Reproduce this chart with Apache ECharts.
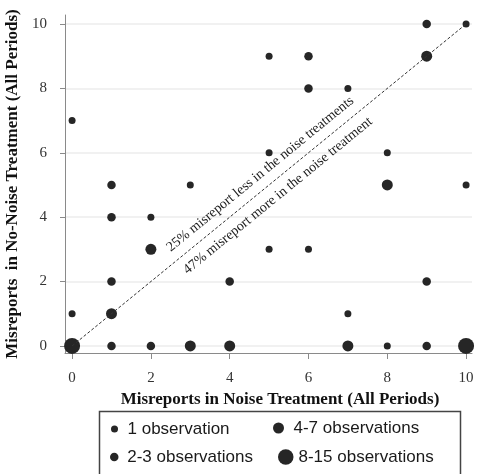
<!DOCTYPE html>
<html>
<head>
<meta charset="utf-8">
<script src="https://cdn.jsdelivr.net/npm/echarts@6/dist/echarts.min.js"></script>
<style>
  html, body { margin: 0; padding: 0; background: #fff; }
  #chart { width: 477px; height: 474px; }
</style>
</head>
<body>
<div id="chart"></div>
<script>
// Misreport counts per subject: [noise treatment, no-noise treatment]
const obsOne = [[0,7],[0,1],[2,4],[3,5],[5,9],[5,6],[5,3],[6,3],[7,8],[7,1],[8,6],[8,0],[10,10],[10,5]];
const obsTwoToThree = [[1,5],[1,4],[1,2],[1,0],[2,0],[4,2],[6,9],[6,8],[9,10],[9,2],[9,0]];
const obsFourToSeven = [[1,1],[2,3],[3,0],[4,0],[7,0],[8,5],[9,9]];
const obsEightToFifteen = [[0,0],[10,0]];

const groupNames = ['1 observation', '2-3 observations', '4-7 observations', '8-15 observations'];
const tickValues = [0, 2, 4, 6, 8, 10];
const diagonal = [[0, 0], [10, 10]];
const diagonalLabels = ['25% misreport less in the noise treatments', '47% misreport more in the noise treatment'];

const dotColor = '#262626';
const serif = 'Liberation Serif';
const sans = 'Liberation Sans';

const chart = echarts.init(document.getElementById('chart'), null, { renderer: 'canvas' });

const legendText = { fontFamily: sans, fontSize: 17, color: '#1a1a1a', lineHeight: 20 };
function legendFor(name, left, top, w, h) {
  return {
    data: [name], left: left, top: top, orient: 'vertical', padding: 0,
    icon: 'circle', itemWidth: w, itemHeight: h, selectedMode: false,
    itemStyle: { color: dotColor, borderWidth: 0, opacity: 1 },
    textStyle: legendText
  };
}

function scatter(name, data, size) {
  return {
    name: name, type: 'scatter', data: data, symbolSize: size,
    itemStyle: { color: dotColor, opacity: 1 },
    silent: true, z: 3
  };
}

const series = [
  scatter(groupNames[0], obsOne, 7),
  scatter(groupNames[1], obsTwoToThree, 8.5),
  scatter(groupNames[2], obsFourToSeven, 11),
  scatter(groupNames[3], obsEightToFifteen, 16)
];

series[0].markLine = {
  silent: true, symbol: 'none', animation: false,
  lineStyle: { color: '#333', width: 1, type: [3, 2] },
  label: { fontFamily: serif, fontSize: 14, color: '#1a1a1a', distance: 7 },
  data: [
    [{ coord: diagonal[0] }, { coord: diagonal[1], label: { formatter: diagonalLabels[0], position: 'insideMiddleTop' } }],
    [{ coord: diagonal[0], lineStyle: { color: 'rgba(0,0,0,0)', width: 0 } }, { coord: diagonal[1], label: { formatter: diagonalLabels[1], position: 'insideMiddleBottom' } }]
  ]
};

const option = {
  animation: false,
  backgroundColor: '#fff',
  grid: { left: 65, right: 5, top: 15, bottom: 121, outerBoundsMode: 'none', containLabel: false },
  xAxis: {
    type: 'value', min: -0.18, max: 10.15,
    name: 'Misreports in Noise Treatment (All Periods)',
    nameLocation: 'middle', nameGap: 33,
    nameTextStyle: { fontFamily: serif, fontWeight: 'bold', fontSize: 17, color: '#111', padding: [0, 0, 0, 23] },
    axisLine: { show: true, onZero: false, lineStyle: { color: '#8a8a8a', width: 1 } },
    axisTick: { show: true, customValues: tickValues, length: 6, lineStyle: { color: '#8a8a8a' } },
    axisLabel: { customValues: tickValues, fontFamily: serif, fontSize: 15, color: '#333', margin: 18 },
    splitLine: { show: false }
  },
  yAxis: {
    type: 'value', min: -0.22, max: 10.28,
    name: 'Misreports  in No-Noise Treatment (All Periods)',
    nameLocation: 'middle', nameGap: 39, nameRotate: 90,
    nameTextStyle: { fontFamily: serif, fontWeight: 'bold', fontSize: 17, color: '#111' },
    axisLine: { show: true, onZero: false, lineStyle: { color: '#8a8a8a', width: 1 } },
    axisTick: { show: true, customValues: tickValues, length: 5, lineStyle: { color: '#8a8a8a' } },
    axisLabel: { customValues: tickValues, fontFamily: serif, fontSize: 15, color: '#333', margin: 18 },
    splitLine: { show: true, lineStyle: { color: '#ececec', width: 1.5 } }
  },
  legend: [
    legendFor(groupNames[0], 111, 419, 16, 7),
    legendFor(groupNames[1], 110, 447, 16, 8.5),
    legendFor(groupNames[2], 273, 418, 20, 11),
    legendFor(groupNames[3], 278, 447, 15.5, 15.5)
  ],
  graphic: [{
    type: 'rect', left: 97, top: 409, z: -1,
    shape: { width: 361, height: 80 },
    style: { fill: 'none', stroke: '#444', lineWidth: 1.5 }
  }],
  series: series
};

chart.setOption(option);
</script>
</body>
</html>
